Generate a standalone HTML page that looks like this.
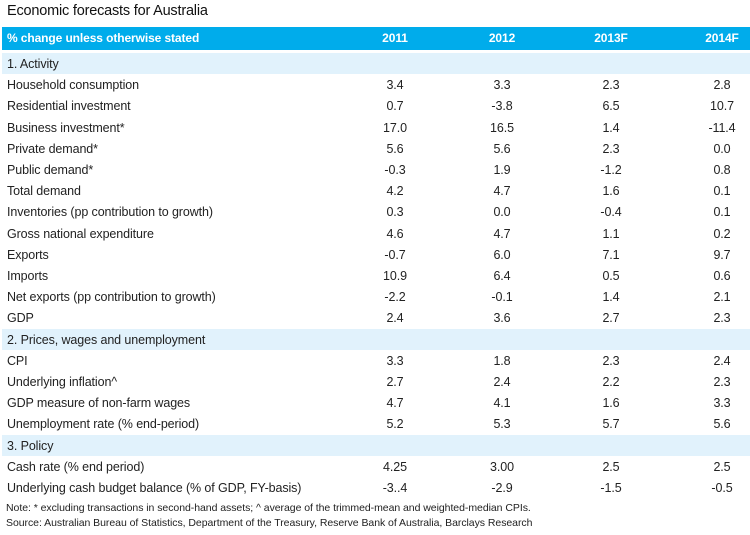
<!DOCTYPE html>
<html><head><meta charset="utf-8">
<style>
body{margin:0;width:750px;height:535px;background:#fff;font-family:"Liberation Sans",sans-serif;color:#222;overflow:hidden;position:relative}
.t{position:absolute;left:7px;top:3px;font-size:14.5px;color:#111;letter-spacing:-0.2px}
.r{position:absolute;left:2px;width:748px;height:21px;font-size:12.5px;line-height:21px;letter-spacing:-0.1px}
.r span{position:absolute;top:1px;white-space:nowrap}
.lab{left:5px}
.v{width:80px;text-align:center}
.c1{left:353px}.c2{left:460px}.c3{left:569px}.c4{left:680px}
.hd{background:#00aceb;color:#fff;font-weight:bold;height:23px;line-height:23px;font-size:12px}
.hd span{top:0}
.sec{background:#e1f2fc}
.n{position:absolute;left:6px;font-size:10.5px;color:#222;letter-spacing:-0.05px}
</style></head><body>
<div class="t">Economic forecasts for Australia</div>
<div id="tbl"></div>
<div class="n" style="top:502px">Note: * excluding transactions in second-hand assets; ^ average of the trimmed-mean and weighted-median CPIs.</div>
<div class="n" style="top:517px">Source: Australian Bureau of Statistics, Department of the Treasury, Reserve Bank of Australia, Barclays Research</div>
<script>
const years=["2011","2012","2013F","2014F"];
const labels=["1. Activity","Household consumption","Residential investment","Business investment*","Private demand*","Public demand*","Total demand","Inventories (pp contribution to growth)","Gross national expenditure","Exports","Imports","Net exports (pp contribution to growth)","GDP","2. Prices, wages and unemployment","CPI","Underlying inflation^","GDP measure of non-farm wages","Unemployment rate (% end-period)","3. Policy","Cash rate (% end period)","Underlying cash budget balance (% of GDP, FY-basis)"];
const v2011=[null,"3.4","0.7","17.0","5.6","-0.3","4.2","0.3","4.6","-0.7","10.9","-2.2","2.4",null,"3.3","2.7","4.7","5.2",null,"4.25","-3..4"];
const v2012=[null,"3.3","-3.8","16.5","5.6","1.9","4.7","0.0","4.7","6.0","6.4","-0.1","3.6",null,"1.8","2.4","4.1","5.3",null,"3.00","-2.9"];
const v2013=[null,"2.3","6.5","1.4","2.3","-1.2","1.6","-0.4","1.1","7.1","0.5","1.4","2.7",null,"2.3","2.2","1.6","5.7",null,"2.5","-1.5"];
const v2014=[null,"2.8","10.7","-11.4","0.0","0.8","0.1","0.1","0.2","9.7","0.6","2.1","2.3",null,"2.4","2.3","3.3","5.6",null,"2.5","-0.5"];
const tbl=document.getElementById('tbl');
function mk(cls,txt){const s=document.createElement('span');s.className=cls;s.textContent=txt;return s;}
const h=document.createElement('div');h.className='r hd';h.style.top='27px';


h.appendChild(mk('lab','% change unless otherwise stated'));
years.forEach((y,i)=>{const s=mk('v c'+(i+1),y);


h.appendChild(s);});
tbl.appendChild(h);
const cols=[v2011,v2012,v2013,v2014];
labels.forEach((l,i)=>{
 const r=document.createElement('div');
 const isSec=v2011[i]===null;
 r.className='r'+(isSec?' sec':'');
 r.style.top=(53+i*21.2).toFixed(1)+'px';
 
 
 r.appendChild(mk('lab',l));
 if(!isSec)cols.forEach((c,j)=>{const s=mk('v c'+(j+1),c[i]);
 
 
 r.appendChild(s);});
 tbl.appendChild(r);
});
</script>
</body></html>
